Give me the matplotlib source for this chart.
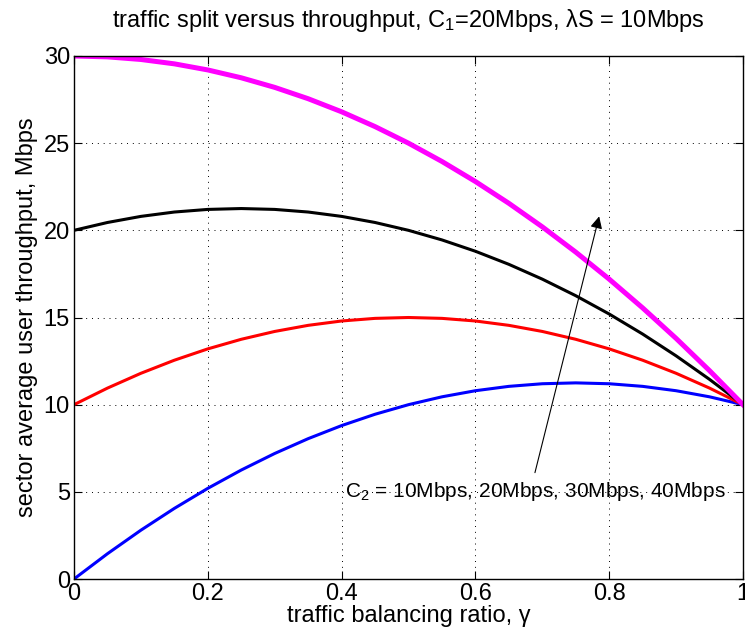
import matplotlib.pyplot as plt

plt.rcParams['font.family'] = ['Liberation Sans', 'DejaVu Sans']
plt.rcParams['mathtext.fontset'] = 'custom'
plt.rcParams['mathtext.rm'] = 'Liberation Sans'
plt.rcParams['mathtext.it'] = 'Liberation Sans'

gamma = [0.0, 0.05, 0.1, 0.15, 0.2, 0.25, 0.3, 0.35, 0.4, 0.45, 0.5,
         0.55, 0.6, 0.65, 0.7, 0.75, 0.8, 0.85, 0.9, 0.95, 1.0]
c2_10 = [0.0, 1.45, 2.8, 4.05, 5.2, 6.25, 7.2, 8.05, 8.8, 9.45, 10.0,
         10.45, 10.8, 11.05, 11.2, 11.25, 11.2, 11.05, 10.8, 10.45, 10.0]
c2_20 = [10.0, 10.95, 11.8, 12.55, 13.2, 13.75, 14.2, 14.55, 14.8, 14.95, 15.0,
         14.95, 14.8, 14.55, 14.2, 13.75, 13.2, 12.55, 11.8, 10.95, 10.0]
c2_30 = [20.0, 20.45, 20.8, 21.05, 21.2, 21.25, 21.2, 21.05, 20.8, 20.45, 20.0,
         19.45, 18.8, 18.05, 17.2, 16.25, 15.2, 14.05, 12.8, 11.45, 10.0]
c2_40 = [30.0, 29.95, 29.8, 29.55, 29.2, 28.75, 28.2, 27.55, 26.8, 25.95, 25.0,
         23.95, 22.8, 21.55, 20.2, 18.75, 17.2, 15.55, 13.8, 11.95, 10.0]

fig = plt.figure(figsize=(7.45, 6.39), dpi=100)
ax = fig.add_axes([74 / 745, 1 - 579 / 639, 669 / 745, 523 / 639])

ax.plot(gamma, c2_10, color='blue', lw=2.2)
ax.plot(gamma, c2_20, color='red', lw=2.2)
ax.plot(gamma, c2_30, color='black', lw=2.2)
ax.plot(gamma, c2_40, color='magenta', lw=3.6)

ax.set_xlim(0, 1)
ax.set_ylim(0, 30)
ax.set_xticks([0, 0.2, 0.4, 0.6, 0.8, 1])
ax.set_xticklabels(['0', '0.2', '0.4', '0.6', '0.8', '1'])
ax.set_yticks([0, 5, 10, 15, 20, 25, 30])
ax.grid(True, linestyle=(0, (1, 5)), color='black', lw=0.7)
ax.set_axisbelow(True)
ax.tick_params(direction='in', top=True, right=True, labelsize=17, length=6, pad=3)
for s in ax.spines.values():
    s.set_linewidth(1.0)

ax.set_xlabel('traffic balancing ratio, γ', fontsize=17, labelpad=0)
ax.set_ylabel('sector average user throughput, Mbps', fontsize=17, labelpad=4)
ax.set_title('traffic split versus throughput, C$_1$=20Mbps, λS = 10Mbps',
             fontsize=17, pad=21)

ax.annotate('', xy=(0.785, 20.8), xytext=(0.689, 6.1),
            arrowprops=dict(arrowstyle='-|>', color='black', lw=0.8,
                            mutation_scale=18, shrinkA=0, shrinkB=0))
ax.text(0.405, 5.0, 'C$_2$ = 10Mbps, 20Mbps, 30Mbps, 40Mbps', fontsize=15,
        va='center', ha='left')

fig.savefig('out.png', dpi=100)
